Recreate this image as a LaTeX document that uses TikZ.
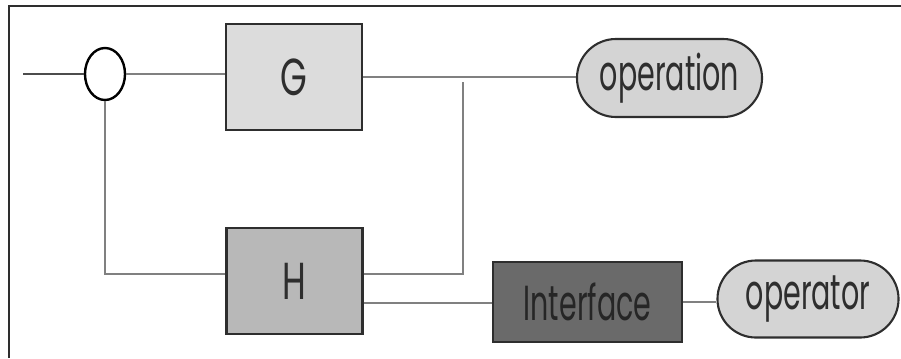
\documentclass[tikz,border=0pt]{standalone}
\usepackage{fontspec}
\usepackage{xcolor}
\usepackage{tikz}
\usetikzlibrary{shapes.geometric, shapes.misc, positioning, calc}
\newfontfamily\blockfont[FakeStretch=0.66]{Poppins}
\newfontfamily\termfont[FakeStretch=0.58]{Poppins}
\definecolor{blockG}{HTML}{DCDCDC}
\definecolor{blockH}{HTML}{B8B8B8}
\definecolor{blockI}{HTML}{6A6A6A}
\definecolor{termfill}{HTML}{D4D4D4}
\definecolor{inkgray}{HTML}{2E2E2E}

\begin{document}
\begin{tikzpicture}[
    x=0.025cm, y=-0.025cm,
    font=\blockfont,
    block/.style={rectangle, draw=inkgray, line width=1.7pt, fill=#1, minimum width=3.4cm, minimum height=2.65cm, inner sep=0pt, text=inkgray, font=\blockfont\fontsize{37}{37}\selectfont},
    term/.style={rounded rectangle, draw=inkgray, line width=1.5pt, fill=termfill, minimum width=#1, minimum height=1.95cm, inner sep=0pt, text=inkgray, font=\termfont\fontsize{35}{35}\selectfont},
    wire/.style={draw=black!50, line width=0.9pt},
]
    \useasboundingbox (0,0) rectangle (901,358);

    % frame
    \draw[line width=2pt, inkgray] (9,358) -- (9,6) -- (901,6);

    % summing point and blocks
    \node[ellipse, draw=black, line width=1.7pt, fill=white, minimum width=1cm, minimum height=1.3cm, inner sep=0pt] (sum) at (105,74) {};
    \node[block=blockG] (G) at (294,77) {G};
    \node[block=blockH] (H) at (294.5,281) {H};
    \node[block=blockI, minimum width=4.725cm, minimum height=2cm, font=\termfont\fontsize{35}{35}\selectfont, text=black!85] (iface) at (587.5,302) {Interface};
    \node[term=4.625cm] (operation) at (669.5,78) {operation};
    \node[term=4.525cm, minimum height=1.925cm] (operator) at (808,299) {operator};

    \coordinate (in) at (23,74);
    \coordinate (tap) at (463,82);
    \coordinate (hfb) at ($(H.west)+(0,-7)$);
    \coordinate (hup) at ($(H.east)+(0,-7)$);
    \coordinate (hlow) at ($(H.east)+(0,22)$);

    % connectors
    \draw[wire, black!70] (in) -- (sum.west);
    \draw[wire] (sum.east) -- (sum.east -| G.west);
    \draw[wire] (G.east) -- (G.east -| operation.west);
    \draw[wire] (sum.south) |- (hfb);
    \draw[wire] (hup) -| (tap);
    \draw[wire] (hlow) -- (hlow -| iface.west);
    \draw[wire] (iface.east) -- (iface.east -| operator.west);
\end{tikzpicture}
\end{document}
